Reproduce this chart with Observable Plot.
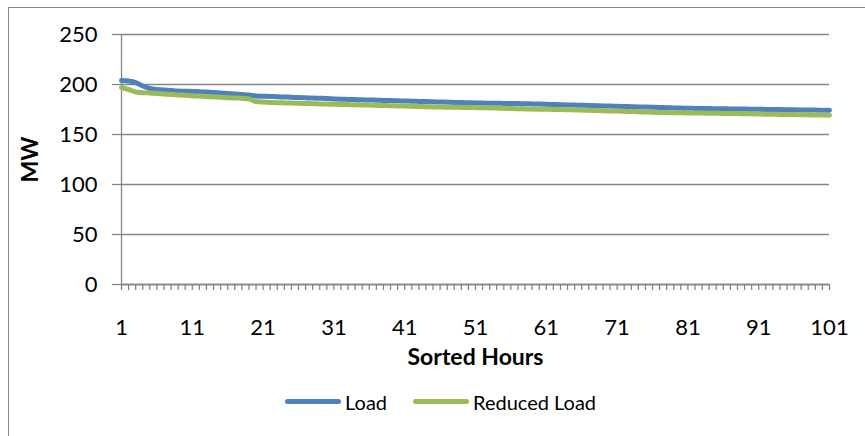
<!DOCTYPE html>
<html>
<head>
<meta charset="utf-8">
<script src="https://cdn.jsdelivr.net/npm/d3@7"></script>
<script src="https://cdn.jsdelivr.net/npm/@observablehq/plot@0.6"></script>
<style>
  html, body { margin: 0; padding: 0; background: #fff; overflow: hidden; }
  body { width: 865px; height: 436px; position: relative; font-family: Lato, "Open Sans", sans-serif; }
  #frame { position: absolute; left: 8px; top: 7px; width: 900px; height: 500px; border: 1px solid #868686; box-sizing: border-box; }
  #chart { position: absolute; left: 0; top: 0; }
  #legend { position: absolute; left: 0; top: 389px; width: 865px; height: 26px; font-size: 20px; color: #000; }
  .sw { position: absolute; top: 10px; height: 5px; border-radius: 3px; }
  .lab { position: absolute; top: 0px; line-height: 26px; }
</style>
</head>
<body>
<div id="frame"></div>
<div id="chart"></div>
<div id="legend">
  <div class="sw" style="left:285px;width:56px;background:#4F81BD"></div>
  <div class="lab" style="left:345px">Load</div>
  <div class="sw" style="left:413px;width:56px;background:#9BBB59"></div>
  <div class="lab" style="left:473px">Reduced Load</div>
</div>
<script>
const hours = d3.range(1, 102);
const loadMW = [
  204, 203.5, 202, 198.5, 196, 195, 194.5, 194, 193.5, 193.3,
  193, 192.8, 192.5, 192, 191.5, 191, 190.5, 190, 189.5, 188.5,
  188.3, 188, 187.8, 187.5, 187.2, 187, 186.7, 186.4, 186.2, 186,
  185.6, 185.3, 185.1, 184.9, 184.7, 184.5, 184.3, 184.1, 183.9, 183.7,
  183.5, 183.3, 183.1, 182.9, 182.7, 182.5, 182.3, 182.1, 181.9, 181.7,
  181.5, 181.4, 181.3, 181.2, 181.1, 181, 180.9, 180.8, 180.6, 180.4,
  180.2, 180, 179.8, 179.6, 179.4, 179.2, 179, 178.8, 178.6, 178.4,
  178.2, 178, 177.8, 177.6, 177.4, 177.2, 177, 176.8, 176.6, 176.4,
  176.2, 176.1, 176, 175.9, 175.8, 175.7, 175.6, 175.5, 175.4, 175.3,
  175.2, 175.1, 175, 174.9, 174.8, 174.7, 174.6, 174.5, 174.4, 174.3,
  174.2
];
const reducedMW = [
  197, 195, 192.5, 191.8, 191.5, 191, 190.5, 190, 189.6, 189.2,
  188.8, 188.4, 188, 187.6, 187.2, 186.8, 186.5, 186.2, 185.6, 183,
  182.4, 182.1, 181.8, 181.6, 181.4, 181.2, 181, 180.8, 180.6, 180.4,
  180.2, 180, 179.9, 179.8, 179.6, 179.4, 179.2, 179, 178.8, 178.6,
  178.4, 178.2, 178, 177.8, 177.6, 177.4, 177.3, 177.2, 177.1, 177,
  176.9, 176.8, 176.6, 176.4, 176.2, 176, 175.8, 175.6, 175.4, 175.3,
  175.2, 175.1, 175, 174.8, 174.6, 174.4, 174.2, 174, 173.8, 173.6,
  173.4, 173.2, 173, 172.8, 172.5, 172.2, 172, 171.9, 171.8, 171.7,
  171.6, 171.5, 171.4, 171.3, 171.2, 171.1, 171, 170.9, 170.8, 170.7,
  170.5, 170.3, 170.2, 170.1, 170, 169.9, 169.8, 169.7, 169.6, 169.5,
  169.3
];
const yTicks = [0, 50, 100, 150, 200, 250];
const xLabelTicks = d3.range(1, 102, 10);
const seriesNames = ["Load", "Reduced Load"];
const seriesColors = ["#4F81BD", "#9BBB59"];

const loadData = hours.map((h, i) => ({hour: h, mw: loadMW[i]}));
const redData = hours.map((h, i) => ({hour: h, mw: reducedMW[i]}));

const gray = "#868686";
const chart = Plot.plot({
  width: 865,
  height: 380,
  marginLeft: 121,
  marginRight: 36,
  marginTop: 34,
  marginBottom: 96,
  style: {fontFamily: "Lato, 'Open Sans', sans-serif", fontSize: "22px", color: "#000", background: "transparent", overflow: "visible"},
  x: {domain: [1, 101]},
  y: {domain: [0, 250]},
  marks: [
    Plot.gridY(yTicks, {stroke: gray, strokeOpacity: 1, strokeWidth: 1.3}),
    Plot.axisY(yTicks, {tickSize: 9, tickPadding: 15, stroke: gray, strokeWidth: 1.3, label: null, fontSize: 22}),
    Plot.ruleX([1], {stroke: gray, strokeWidth: 1.3}),
    Plot.ruleY([0], {stroke: gray, strokeWidth: 1.3}),
    Plot.axisX(hours, {tickSize: 6, stroke: gray, strokeWidth: 1.3, tickFormat: () => "", label: null}),
    Plot.axisX(xLabelTicks, {tickSize: 0, tickPadding: 35, tickFormat: d3.format("d"), label: null, fontSize: 22}),
    Plot.line(loadData, {x: "hour", y: "mw", stroke: seriesColors[0], strokeWidth: 5, curve: "monotone-x"}),
    Plot.line(redData, {x: "hour", y: "mw", stroke: seriesColors[1], strokeWidth: 5, curve: "monotone-x"}),
    Plot.text(["Sorted Hours"], {frameAnchor: "bottom", dy: 73, textAnchor: "middle", lineAnchor: "middle", fontWeight: "bold", fontSize: 23}),
    Plot.text(["MW"], {frameAnchor: "left", dx: -91, textAnchor: "middle", rotate: -90, lineAnchor: "middle", fontWeight: "bold", fontSize: 23})
  ]
});
document.getElementById("chart").appendChild(chart);
</script>
</body>
</html>
